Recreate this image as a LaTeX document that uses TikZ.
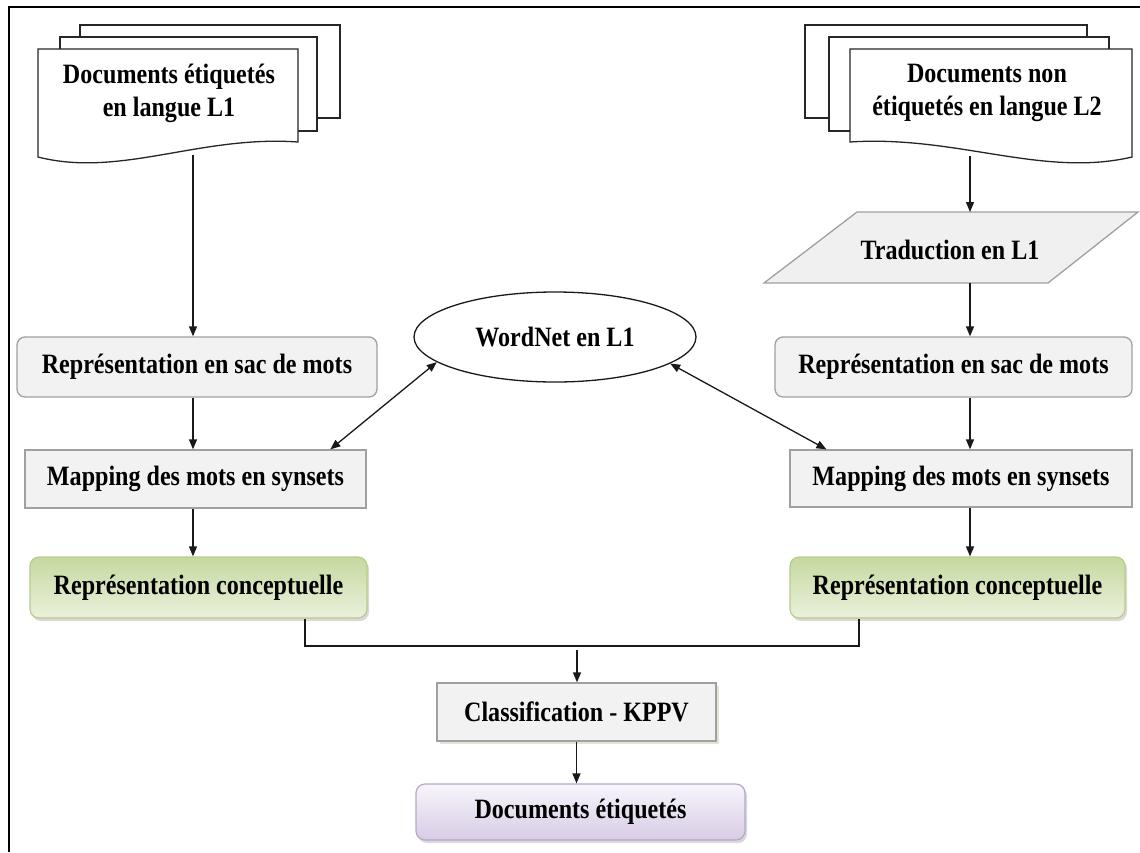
\documentclass[tikz,border=0pt]{standalone}
\usepackage{fontspec}
\newfontfamily\lbl{Liberation Serif}[FakeStretch=0.86]
\usetikzlibrary{arrows.meta,shapes.geometric,shadows,calc}
\definecolor{boxfill}{HTML}{F2F2F2}
\definecolor{boxdraw}{HTML}{A0A0A0}
\definecolor{gTop}{HTML}{C6D9A0}
\definecolor{gBot}{HTML}{EAF1DC}
\definecolor{gDraw}{HTML}{B8CC8C}
\definecolor{pTop}{HTML}{F8F5FB}
\definecolor{pBot}{HTML}{D7CCE5}
\definecolor{pDraw}{HTML}{B6A6CA}
\definecolor{paraFill}{HTML}{F0F0F0}
\begin{document}
\begin{tikzpicture}[x=1pt,y=-1pt,
  lab/.style={font=\lbl\bfseries\fontsize{28}{33}\selectfont, align=center},
  sheet/.style={draw=black!85, fill=white, line width=1.3pt},
  graybox/.style={lab, draw=boxdraw, fill=boxfill, line width=1.3pt, inner sep=0pt},
  roundbox/.style={graybox, rounded corners=8pt},
  concbox/.style={lab, draw=gDraw, top color=gTop, bottom color=gBot, line width=1.2pt,
     rounded corners=9pt, inner sep=0pt, minimum width=337pt, minimum height=61pt,
     drop shadow={shadow xshift=2pt, shadow yshift=-3pt, opacity=.3}},
  arr/.style={-{Triangle[length=10pt,width=8pt]}, line width=1.3pt, draw=black!90},
  darr/.style={{Triangle[length=10pt,width=8pt]}-{Triangle[length=10pt,width=8pt]}, line width=1.3pt, draw=black!90},
  plain/.style={line width=1.3pt, draw=black!90}
]
\useasboundingbox (0,0) rectangle (1140,852);
% frame
\draw[line width=2.4pt] (9,852) -- (9,7) -- (1140,7);

% left document stack
\draw[sheet] (80,25) rectangle (340,118);
\draw[sheet] (60,37) rectangle (317,131);
\draw[sheet] (38,49) -- (298,49) -- (298,142) .. controls (200,135) and (120,178) .. (38,157) -- cycle;
\node[lab] (docL) at (169,93) {Documents étiquetés\\en langue L1};

% right document stack
\draw[sheet] (805,25) rectangle (1087,118);
\draw[sheet] (829,37) rectangle (1109,131);
\draw[sheet] (850,49) -- (1132,49) -- (1132,157) .. controls (1043,178) and (956,135) .. (850,142) -- cycle;
\node[lab] (docR) at (987,93) {Documents non\\étiquetés en langue L2};

% parallelogram
\draw[draw=boxdraw, fill=paraFill, line width=1.3pt] (764,283) -- (857,212) -- (1138,212) -- (1048,283) -- cycle;
\node[lab] (trad) at (950,250) {Traduction en L1};

% boxes
\node[roundbox, minimum width=360pt, minimum height=60pt] (sacL) at (197,367) {Représentation en sac de mots};
\node[roundbox, minimum width=357pt, minimum height=60pt] (sacR) at (953.5,367) {Représentation en sac de mots};
\node[graybox, minimum width=341pt, minimum height=58pt] (mapL) at (195.5,479) {Mapping des mots en synsets};
\node[graybox, minimum width=342pt, minimum height=57pt] (mapR) at (961,478.5) {Mapping des mots en synsets};
\node[concbox] (convL) at (198.5,587.5) {Représentation conceptuelle};
\node[concbox, minimum width=335pt] (convR) at (957.5,587.5) {Représentation conceptuelle};
\node[graybox, minimum width=279pt, minimum height=58pt,
      drop shadow={shadow xshift=3pt, shadow yshift=-3pt, opacity=.35, fill=gDraw!70!gray}] (classif) at (576.5,712) {Classification - KPPV};
\node[lab, draw=pDraw, top color=pTop, bottom color=pBot, line width=1.2pt, rounded corners=9pt,
      inner sep=0pt, minimum width=329pt, minimum height=56pt,
      drop shadow={shadow xshift=2pt, shadow yshift=-3pt, opacity=.3}] (docs) at (580.5,812) {Documents étiquetés};
\node[lab, ellipse, draw=black!90, fill=white, line width=1.3pt, inner sep=0pt,
      minimum width=282pt, minimum height=90pt] (wn) at (555,337) {WordNet en L1};

% column coordinates
\coordinate (docLb) at (193,155);
\coordinate (docRb) at (970,156);
\coordinate (tradT) at (970,212);
\coordinate (tradB) at (970,283);

% connectors
\draw[arr] (docLb) -- (docLb |- sacL.north);
\draw[arr] (docLb |- sacL.south) -- (docLb |- mapL.north);
\draw[arr] (docLb |- mapL.south) -- (docLb |- convL.north);

\draw[arr] (docRb) -- (tradT);
\draw[arr] (tradB) -- (tradB |- sacR.north);
\draw[arr] (tradB |- sacR.south) -- (tradB |- mapR.north);
\draw[arr] (tradB |- mapR.south) -- (tradB |- convR.north);

\draw[darr] (wn.192) -- ($(mapL.north west)!0.894!(mapL.north east)$);
\draw[darr] (wn.347) -- ($(mapR.north west)!0.108!(mapR.north east)$);

\coordinate (jL) at (305,646);
\coordinate (jR) at (859,646);
\coordinate (jM) at (577,650);
\draw[plain] (jL |- convL.south) -- (jL) -- (jR) -- (jR |- convR.south);
\draw[arr] (jM) -- (jM |- classif.north);
\draw[arr] (classif.south) -- (classif.south |- docs.north);
\end{tikzpicture}
\end{document}
